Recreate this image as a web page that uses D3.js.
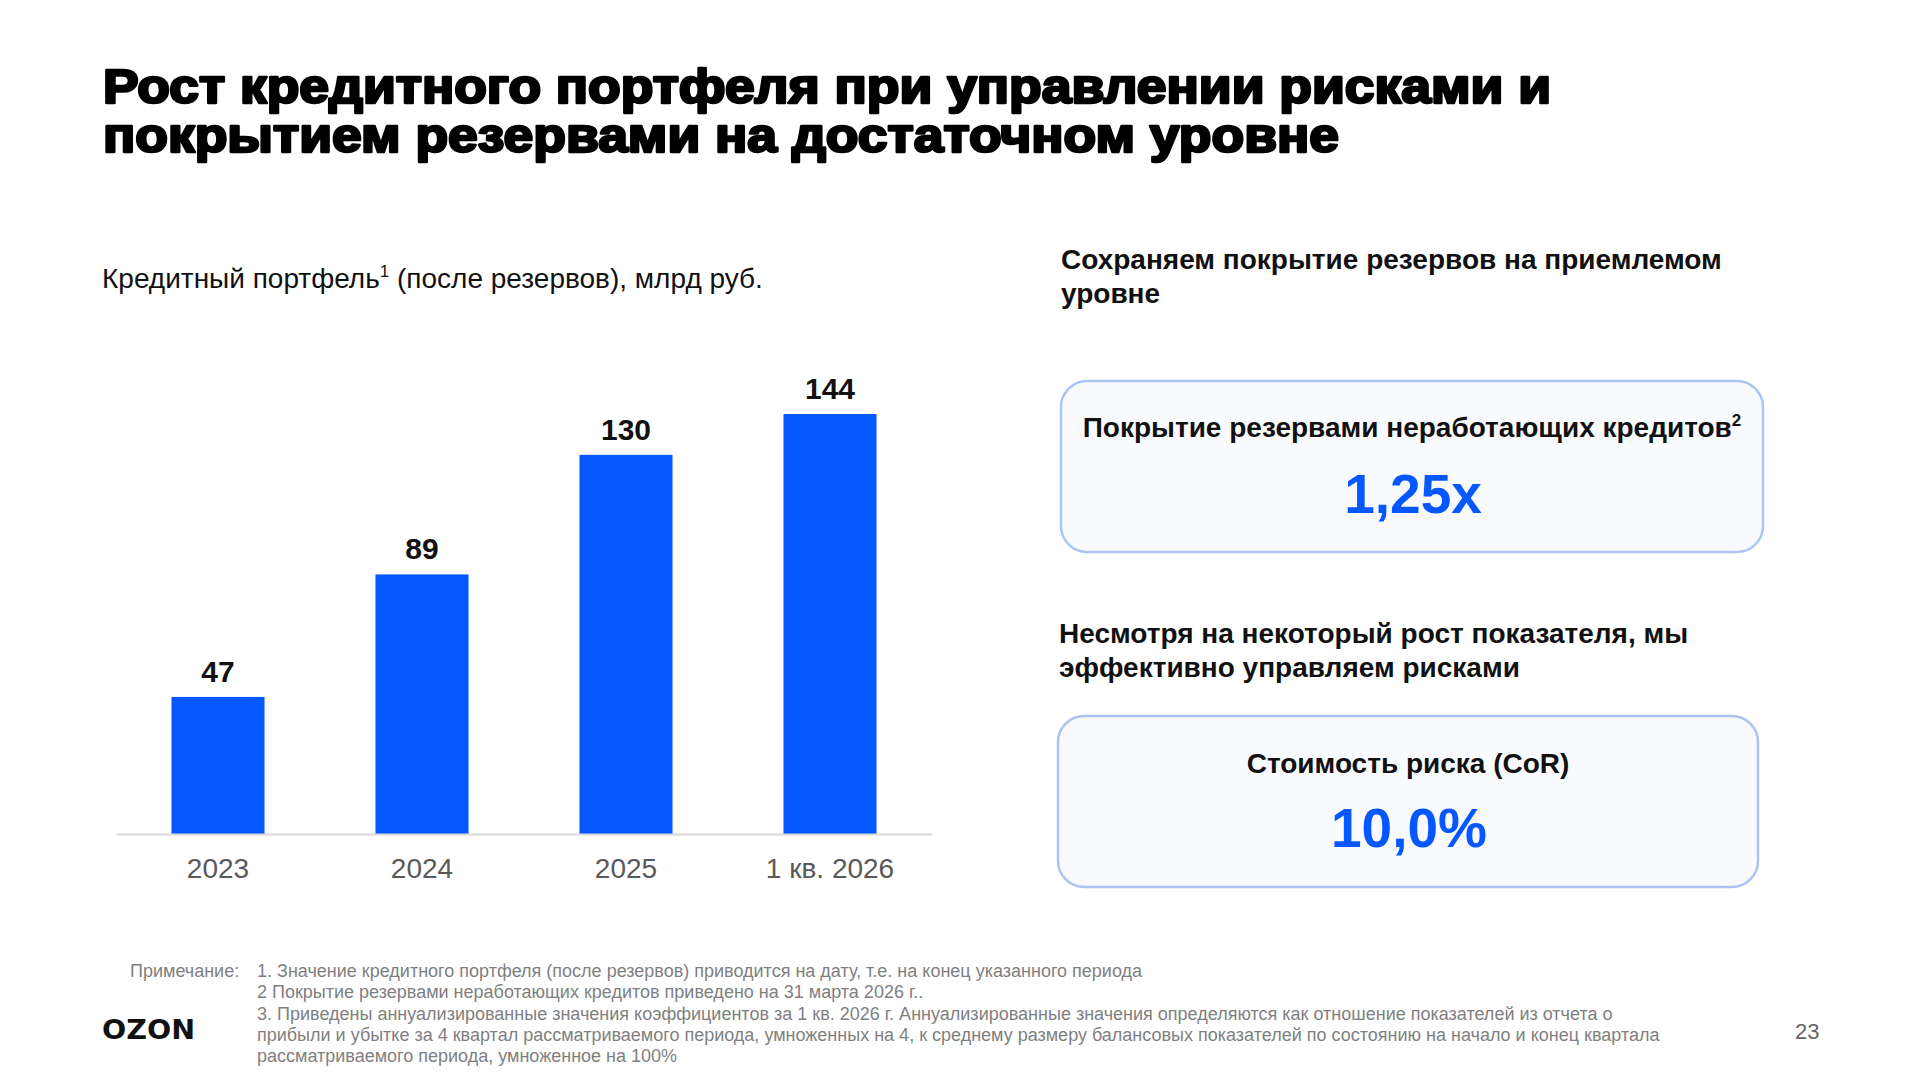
<!DOCTYPE html>
<html><head><meta charset="utf-8">
<script src="https://cdn.jsdelivr.net/npm/d3@7"></script>
<style>html,body{margin:0;padding:0;background:#fff;}svg{display:block;}</style>
</head><body>
<svg id="c" width="1920" height="1080"></svg>
<script>
const titleLines = ["Рост кредитного портфеля при управлении рисками и", "покрытием резервами на достаточном уровне"];
const chartSubtitle = ["Кредитный портфель", "1", " (после резервов), млрд руб."];
const categories = ["2023", "2024", "2025", "1 кв. 2026"];
const values = [47, 89, 130, 144];
const heading1 = ["Сохраняем покрытие резервов на приемлемом", "уровне"];
const kpi1Label = ["Покрытие резервами неработающих кредитов", "2"];
const kpi1Value = "1,25x";
const heading2 = ["Несмотря на некоторый рост показателя, мы", "эффективно управляем рисками"];
const kpi2Label = "Стоимость риска (CoR)";
const kpi2Value = "10,0%";
const noteLabel = "Примечание:";
const notes = [
  "1. Значение кредитного портфеля (после резервов) приводится на дату, т.е. на конец указанного периода",
  "2 Покрытие резервами неработающих кредитов приведено на 31 марта 2026 г..",
  "3. Приведены аннуализированные значения коэффициентов за 1 кв. 2026 г. Аннуализированные значения определяются как отношение показателей из отчета о",
  "прибыли и убытке за 4 квартал рассматриваемого периода, умноженных на 4, к среднему размеру балансовых показателей по состоянию на начало и конец квартала",
  "рассматриваемого периода, умноженное на 100%"
];
const pageNumber = "23";

const svg = d3.select("#c");
const FONT = "'Liberation Sans', Arial, sans-serif";
const BLUE = "#0558ff";

// Title
const titleWidths = [1448, 1236];
titleLines.forEach((t, i) => {
  svg.append("text").attr("x", 103).attr("y", 103 + i * 49)
    .attr("font-family", FONT).attr("font-weight", 700).attr("font-size", 48)
    .attr("fill", "#000").attr("stroke", "#000").attr("stroke-width", 2.6)
    .attr("stroke-linejoin", "round")
    .attr("textLength", titleWidths[i]).attr("lengthAdjust", "spacingAndGlyphs").text(t);
});

// Chart subtitle
const sub = svg.append("text").attr("x", 102).attr("y", 288)
  .attr("font-family", FONT).attr("font-size", 28).attr("fill", "#111");
sub.append("tspan").text(chartSubtitle[0]);
sub.append("tspan").attr("dy", -11).attr("font-size", 17).text(chartSubtitle[1]);
sub.append("tspan").attr("dy", 11).text(chartSubtitle[2]);

// Bar chart
const x = d3.scaleBand().domain(categories).range([116, 932]).paddingInner(0.544).paddingOuter(0.272);
const y = d3.scaleLinear().domain([0, d3.max(values)]).range([834, 414]);

svg.append("g").selectAll("rect").data(values).join("rect")
  .attr("x", (d, i) => x(categories[i])).attr("width", x.bandwidth())
  .attr("y", d => y(d)).attr("height", d => y(0) - y(d)).attr("fill", BLUE);

const xAxis = svg.append("g").attr("transform", `translate(0,${y(0)})`)
  .call(d3.axisBottom(x).tickSize(0).tickPadding(24));
xAxis.select(".domain").attr("stroke", "#d9d9d9").attr("stroke-width", 2);
xAxis.selectAll("text").attr("font-family", FONT).attr("font-size", 28).attr("fill", "#595959");

svg.append("g").selectAll("text").data(values).join("text")
  .attr("x", (d, i) => x(categories[i]) + x.bandwidth() / 2).attr("y", d => y(d) - 15)
  .attr("text-anchor", "middle").attr("font-family", FONT).attr("font-weight", 700)
  .attr("font-size", 30).attr("fill", "#111").text(d => d);

// Right panel
function heading(lines, x0, yb) {
  lines.forEach((t, i) => {
    svg.append("text").attr("x", x0).attr("y", yb + i * 34)
      .attr("font-family", FONT).attr("font-weight", 700).attr("font-size", 28)
      .attr("fill", "#111").text(t);
  });
}
heading(heading1, 1061, 269);
heading(heading2, 1059, 643);

function box(x0, y0, w, h) {
  svg.append("rect").attr("x", x0).attr("y", y0).attr("width", w).attr("height", h)
    .attr("rx", 26).attr("ry", 26).attr("fill", "#f8fafd")
    .attr("stroke", "#aac4f4").attr("stroke-width", 2.5);
}
box(1061, 381, 702, 171);
box(1058, 716, 700, 171);

const k1 = svg.append("text").attr("x", 1412).attr("y", 437).attr("text-anchor", "middle")
  .attr("font-family", FONT).attr("font-weight", 700).attr("font-size", 28).attr("fill", "#111");
k1.append("tspan").text(kpi1Label[0]);
k1.append("tspan").attr("dy", -11).attr("font-size", 17).text(kpi1Label[1]);

svg.append("text").attr("x", 1413).attr("y", 513).attr("text-anchor", "middle")
  .attr("font-family", FONT).attr("font-weight", 700).attr("font-size", 55).attr("fill", BLUE).text(kpi1Value);

svg.append("text").attr("x", 1408).attr("y", 773).attr("text-anchor", "middle")
  .attr("font-family", FONT).attr("font-weight", 700).attr("font-size", 28).attr("fill", "#111").text(kpi2Label);

svg.append("text").attr("x", 1409).attr("y", 847).attr("text-anchor", "middle")
  .attr("font-family", FONT).attr("font-weight", 700).attr("font-size", 55).attr("fill", BLUE).text(kpi2Value);

// Footnotes
svg.append("text").attr("x", 130).attr("y", 977).attr("font-family", FONT)
  .attr("font-size", 18).attr("fill", "#7f7f7f").text(noteLabel);
notes.forEach((t, i) => {
  svg.append("text").attr("x", 257).attr("y", 977 + i * 21.3).attr("font-family", FONT)
    .attr("font-size", 18).attr("fill", "#7f7f7f").text(t);
});

// Logo + page number
svg.append("text").attr("x", 102).attr("y", 1039).attr("font-family", "'DejaVu Sans', sans-serif")
  .attr("font-weight", 700).attr("font-size", 27).attr("fill", "#111")
  .attr("textLength", 93).attr("lengthAdjust", "spacingAndGlyphs").text("OZON");
svg.append("text").attr("x", 1795).attr("y", 1039).attr("font-family", FONT)
  .attr("font-size", 22).attr("fill", "#666").text(pageNumber);
</script>
</body></html>
